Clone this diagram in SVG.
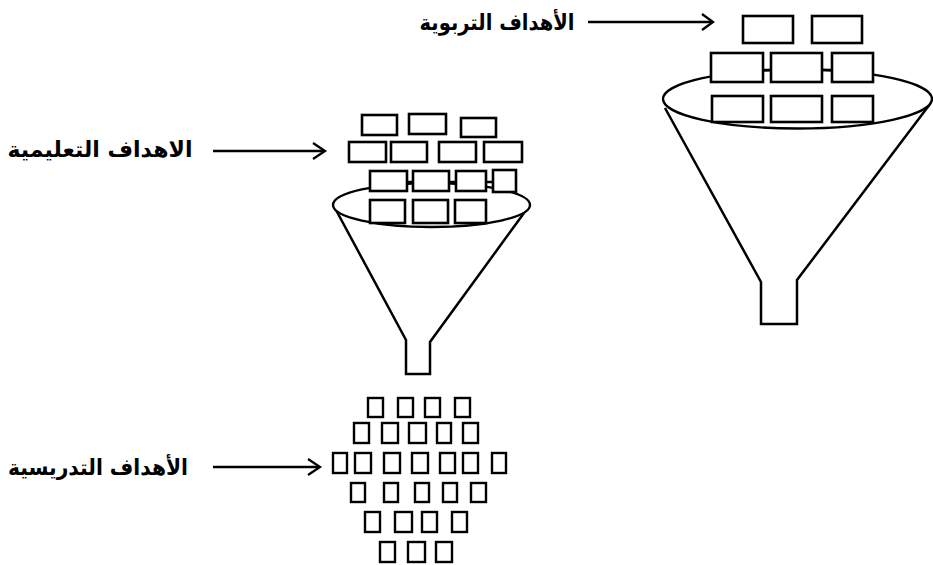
<svg xmlns="http://www.w3.org/2000/svg" width="933" height="565" viewBox="0 0 933 565">
<style>
.bx{fill:#fff;stroke:#000;stroke-width:2.6}
.sq{fill:#fff;stroke:#000;stroke-width:2.4}
.ln{fill:none;stroke:#000;stroke-width:2.5;stroke-linejoin:miter}
.el{fill:#fff;stroke:#000;stroke-width:2.4}
.lbl{font-family:"DejaVu Sans",sans-serif;font-weight:bold;font-size:22px;fill:#000;text-anchor:middle}
.ar{fill:none;stroke:#000;stroke-width:2.3}
</style>
<rect width="933" height="565" fill="#fff"/>

<g id="funnel-educational">
<path class="ln" d="M665,108 L761,282 L761,324 L797,324 L797,280 L930,104"/>
<ellipse class="el" cx="797.5" cy="99" rx="134.5" ry="29.5"/>
<rect class="bx" x="743" y="16" width="50" height="27"/>
<rect class="bx" x="812" y="16" width="50" height="27"/>
<line class="ln" x1="763" y1="70" x2="771" y2="70"/>
<line class="ln" x1="822" y1="70" x2="832" y2="70"/>
<rect class="bx" x="711" y="53" width="52" height="29"/>
<rect class="bx" x="771" y="53" width="51" height="29"/>
<rect class="bx" x="832" y="53" width="41" height="29"/>
<rect class="bx" x="712" y="96" width="51" height="26"/>
<rect class="bx" x="771" y="96" width="51" height="26"/>
<rect class="bx" x="832" y="96" width="41" height="26"/>
</g>

<g id="funnel-instructional">
<path class="ln" d="M336,210 L406,340 L406,374 L430,374 L430,342 L524,213"/>
<ellipse class="el" cx="431.5" cy="205" rx="98.5" ry="22"/>
<rect class="bx" x="362" y="115" width="35" height="20"/>
<rect class="bx" x="409" y="114" width="37" height="20"/>
<rect class="bx" x="461" y="118" width="35" height="19"/>
<rect class="bx" x="349" y="142" width="37" height="20"/>
<rect class="bx" x="391" y="142" width="36" height="20"/>
<rect class="bx" x="439" y="142" width="37" height="20"/>
<rect class="bx" x="484" y="142" width="38" height="20"/>
<line class="ln" x1="407" y1="182" x2="413" y2="182"/>
<line class="ln" x1="449" y1="182" x2="456" y2="182"/>
<line class="ln" x1="486" y1="182" x2="493" y2="182"/>
<rect class="bx" x="370" y="171" width="37" height="20"/>
<rect class="bx" x="413" y="171" width="36" height="20"/>
<rect class="bx" x="456" y="171" width="30" height="20"/>
<rect class="bx" x="493" y="170" width="23" height="22"/>
<rect class="bx" x="370" y="200" width="35" height="23"/>
<rect class="bx" x="413" y="200" width="35" height="23"/>
<rect class="bx" x="455" y="200" width="31" height="23"/>
</g>

<g id="teaching-objectives">
<rect class="sq" x="368" y="398" width="15" height="19"/>
<rect class="sq" x="398" y="398" width="15" height="19"/>
<rect class="sq" x="425" y="398" width="15" height="19"/>
<rect class="sq" x="455" y="398" width="15" height="19"/>

<rect class="sq" x="354" y="423" width="15" height="20"/>
<rect class="sq" x="382" y="423" width="16" height="20"/>
<rect class="sq" x="409" y="423" width="17" height="20"/>
<rect class="sq" x="437" y="423" width="14" height="20"/>
<rect class="sq" x="463" y="423" width="15" height="20"/>

<rect class="sq" x="333" y="453" width="14" height="20"/>
<rect class="sq" x="355" y="453" width="16" height="20"/>
<rect class="sq" x="384" y="453" width="16" height="20"/>
<rect class="sq" x="412" y="453" width="16" height="20"/>
<rect class="sq" x="440" y="453" width="15" height="20"/>
<rect class="sq" x="463" y="453" width="15" height="20"/>
<rect class="sq" x="492" y="453" width="14" height="20"/>

<rect class="sq" x="351" y="483" width="14" height="19"/>
<rect class="sq" x="384" y="483" width="14" height="19"/>
<rect class="sq" x="415" y="483" width="14" height="19"/>
<rect class="sq" x="443" y="483" width="14" height="19"/>
<rect class="sq" x="471" y="483" width="15" height="19"/>

<rect class="sq" x="365" y="512" width="15" height="20"/>
<rect class="sq" x="395" y="512" width="17" height="20"/>
<rect class="sq" x="422" y="512" width="15" height="20"/>
<rect class="sq" x="452" y="512" width="15" height="20"/>

<rect class="sq" x="380" y="542" width="15" height="20"/>
<rect class="sq" x="408" y="542" width="17" height="20"/>
<rect class="sq" x="436" y="542" width="16" height="20"/>
</g>

<g id="labels">
<text id="label-educational" class="lbl" x="497" y="30" textLength="155" lengthAdjust="spacingAndGlyphs">الأهداف التربوية</text>
<text id="label-instructional" class="lbl" x="100" y="157" textLength="185" lengthAdjust="spacingAndGlyphs">الاهداف التعليمية</text>
<text id="label-teaching" class="lbl" x="98" y="475" textLength="180" lengthAdjust="spacingAndGlyphs">الأهداف التدريسية</text>
</g>

<g id="connectors">
<line class="ar" x1="588" y1="22" x2="712" y2="22"/>
<polyline class="ar" points="702,14 713,22 702,30"/>
<line class="ar" x1="213" y1="151" x2="324" y2="151"/>
<polyline class="ar" points="313,143 325,151 313,159"/>
<line class="ar" x1="213" y1="467" x2="319" y2="467"/>
<polyline class="ar" points="308,459 320,467 308,475"/>
</g>
</svg>
